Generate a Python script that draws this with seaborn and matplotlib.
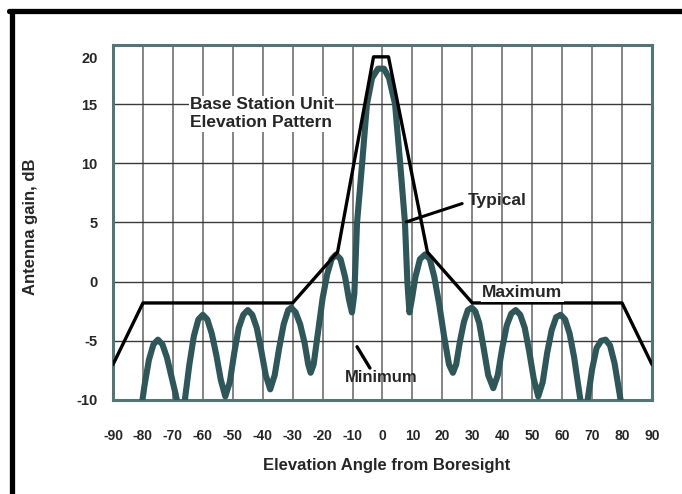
import numpy as np
import pandas as pd
import matplotlib
matplotlib.use("Agg")
import matplotlib.pyplot as plt
import matplotlib.transforms as mtransforms
import seaborn as sns
from matplotlib.lines import Line2D

# elevation angles (deg) and gains (dB)
max_deg = [-90, -80, -30, -15, -3, 2, 15, 30, 80, 90]
max_db = [-7.0, -1.8, -1.8, 2.5, 19.0, 19.0, 2.5, -1.8, -1.8, -7.0]

typ_deg = [-81.0, -79.5, -78.0, -76.5, -75.0, -73.5, -72.0, -70.5, -69.0, -67.5,
           -66.0, -64.5, -63.0, -61.5, -60.0, -58.5, -57.0, -55.5, -54.0, -52.5,
           -51.0, -49.5, -48.0, -46.5, -45.0, -43.5, -42.0, -40.5, -39.0, -37.5,
           -36.0, -34.5, -33.0, -31.5, -30.5, -29.0, -27.5, -26.0, -24.8, -24.0,
           -23.0, -21.5, -20.0, -18.5, -17.0, -15.5, -14.0, -12.5, -11.2, -10.2,
           -9.4, -8.5, -6.8, -5.2, -3.5, -1.5, 0.5, 2.2, 4.2, 5.9,
           7.5, 8.3, 9.0, 9.8, 11.0, 12.5, 14.2, 15.8, 17.3, 19.0,
           20.5, 22.2, 23.5, 24.6, 25.9, 27.2, 28.5, 29.8, 31.0, 32.3,
           33.7, 35.3, 37.0, 38.5, 40.0, 41.5, 43.0, 44.5, 46.0, 47.5,
           49.0, 50.5, 52.0, 53.5, 55.0, 56.5, 58.0, 59.5, 61.0, 62.5,
           64.0, 65.5, 67.0, 68.5, 70.0, 71.5, 73.0, 74.5, 76.0, 77.5,
           79.0, 80.5]
typ_db = [-11.5, -8.8, -6.6, -5.3, -4.9, -5.3, -6.4, -8.0, -9.6, -11.5,
          -10.0, -7.0, -4.6, -3.2, -2.8, -3.2, -4.4, -6.2, -8.3, -9.7,
          -8.5, -6.0, -3.9, -2.8, -2.4, -2.8, -3.9, -5.8, -7.9, -9.1,
          -7.9, -5.6, -3.6, -2.4, -2.2, -2.6, -3.6, -5.2, -7.0, -7.7,
          -7.0, -4.2, -1.4, 0.6, 1.9, 2.3, 1.9, 0.4, -1.5, -2.6,
          -1.0, 5.0, 10.0, 15.0, 17.2, 18.0, 18.0, 17.2, 15.0, 10.0,
          5.0, 0.0, -2.6, -1.5, 0.4, 1.9, 2.3, 1.9, 0.4, -2.0,
          -4.5, -7.0, -7.7, -7.0, -5.0, -3.4, -2.4, -2.2, -2.5, -3.5,
          -5.5, -7.9, -9.0, -7.9, -5.6, -3.7, -2.7, -2.4, -2.8, -3.9,
          -5.9, -8.2, -9.7, -8.5, -6.0, -4.1, -3.0, -2.8, -3.2, -4.4,
          -6.4, -9.0, -11.5, -10.0, -7.4, -5.6, -5.0, -4.9, -5.4, -6.9,
          -9.2, -11.5]

x_ticks = list(range(-90, 91, 10))
y_ticks = [-10, -5, 0, 5, 10, 15, 20]

sns.set_theme(style="white")
plt.rcParams['font.family'] = ['Liberation Sans', 'DejaVu Sans']
plt.rcParams['font.weight'] = 'bold'
plt.rcParams['axes.unicode_minus'] = False

fig = plt.figure(figsize=(6.82, 4.94), dpi=100)
ax = fig.add_axes([0.1657, 0.1903, 0.7903, 0.7186])

typ_df = pd.DataFrame({'angle': typ_deg, 'gain': typ_db})
max_df = pd.DataFrame({'angle': max_deg, 'gain': max_db})

sns.lineplot(data=typ_df, x='angle', y='gain', ax=ax, sort=False,
             color='#2f5659', lw=4.4, solid_joinstyle='round', zorder=3)
sns.lineplot(data=max_df, x='angle', y='gain', ax=ax, sort=False,
             color='black', lw=2.4, zorder=4)

ax.set_xlim(-90, 90)
ax.set_ylim(-10, 20)
ax.set_xticks(x_ticks)
ax.set_yticks(y_ticks)
ax.set_xticklabels([str(t) for t in x_ticks], fontsize=10, fontweight='bold')
ax.set_yticklabels([str(t) for t in y_ticks], fontsize=10.5, fontweight='bold')
ax.tick_params(axis='x', length=0, pad=21)
ax.tick_params(axis='y', length=0, pad=11)

# the scan shows the "20" label sitting a little below the top frame
top_lab = ax.get_yticklabels()[-1]
top_lab.set_transform(top_lab.get_transform() +
                      mtransforms.ScaledTranslation(0, -0.12, fig.dpi_scale_trans))

ax.grid(True, axis='x', color='#707070', lw=1.2)
ax.grid(True, axis='y', color='#3a3a3a', lw=1.0)
for s in ax.spines.values():
    s.set_color('#557575')
    s.set_linewidth(2.2)

ax.set_xlabel('Elevation Angle from Boresight', fontsize=12, fontweight='bold')
ax.set_ylabel('Antenna gain, dB', fontsize=12, fontweight='bold')
ax.xaxis.set_label_coords(0.508, -0.163)
ax.yaxis.set_label_coords(-0.139, 0.487)

box = dict(facecolor='white', edgecolor='none', pad=1)
ax.text(-64.3, 14.2, 'Base Station Unit\nElevation Pattern', fontsize=12.5,
        fontweight='bold', ha='left', va='center', linespacing=1.25,
        bbox=box, zorder=5)
ax.text(28.6, 6.9, 'Typical', fontsize=12.5, fontweight='bold',
        ha='left', va='center', zorder=5)
ax.plot([26.6, 7.9], [6.6, 5.05], color='black', lw=2.2, zorder=5)
ax.text(46.6, -0.95, 'Maximum', fontsize=12.5, fontweight='bold',
        ha='center', va='center', bbox=box, zorder=5)
ax.text(-12.5, -8.1, 'Minimum', fontsize=12, fontweight='bold',
        ha='left', va='center', zorder=5)
ax.plot([-8.5, -4.2], [-5.5, -7.3], color='black', lw=2.4, zorder=5)

# scanned page border (top and left edges)
fig.add_artist(Line2D([9 / 682, 1.0], [0.9787, 0.9787], color='black', lw=3.8))
fig.add_artist(Line2D([0.0169, 0.0169], [0.0, 0.9787], color='black', lw=3.8))

fig.savefig('out.png', dpi=100)
